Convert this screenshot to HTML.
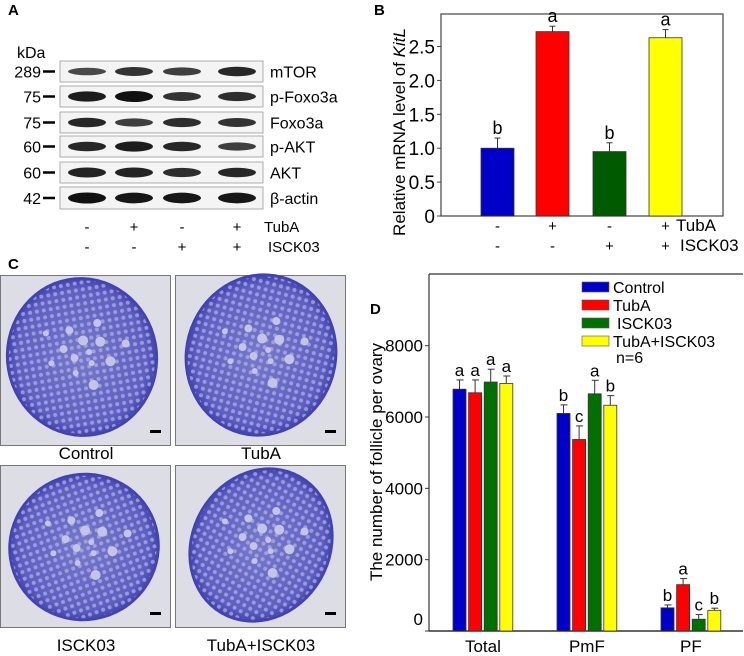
<!DOCTYPE html>
<html><head><meta charset="utf-8"><style>
html,body{margin:0;padding:0;background:#fff;}
svg{display:block;font-family:"Liberation Sans",Arial,sans-serif;}
</style></head><body>
<svg id="fig" width="744" height="656" viewBox="0 0 744 656">
<defs>
<radialGradient id="ov" cx="50%" cy="50%" r="50%">
<stop offset="0" stop-color="#7778cc"/><stop offset="0.85" stop-color="#5e5fc2"/><stop offset="1" stop-color="#3e3fae"/>
</radialGradient>
<pattern id="cells" width="7" height="7" patternUnits="userSpaceOnUse">
<circle cx="3.5" cy="3.5" r="2" fill="#b4b5e2" opacity="0.7"/>
</pattern>
</defs>
<g font-weight="bold" font-size="15">
<text x="8" y="15">A</text>
<text x="374" y="15">B</text>
<text x="8" y="269">C</text>
<text x="370" y="314">D</text>
</g>
<g id="blot"></g>
<g id="histo"></g>
<g id="chartB"></g>
<g id="chartD"></g>
</svg>
<script>
// ---- Panel B data ----
const bGroups = ['Control','TubA','ISCK03','TubA+ISCK03'];
const bValues = [1.0, 2.72, 0.95, 2.63];
const bErrors = [0.15, 0.08, 0.13, 0.12];
const bLetters = ['b','a','b','a'];
const bTicks = [0, 0.5, 1.0, 1.5, 2.0, 2.5];
const bTickLabels = ['0','0.5','1.0','1.5','2.0','2.5'];
// ---- Panel D data ----
const dCategories = ['Total','PmF','PF'];
const dSeries = ['Control','TubA','ISCK03','TubA+ISCK03'];
const dControl = [6780, 6100, 650];
const dTubA = [6680, 5370, 1300];
const dISCK03 = [6980, 6650, 330];
const dCombo = [6940, 6330, 580];
const dControlErr = [260, 240, 80];
const dTubAErr = [360, 380, 170];
const dISCK03Err = [360, 380, 130];
const dComboErr = [210, 270, 60];
const dLetters = [['a','a','a','a'],['b','c','a','b'],['b','a','c','b']];
const dTicks = [0, 2000, 4000, 6000, 8000];
// ---- Panel A data ----
const blotProteins = ['mTOR','p-Foxo3a','Foxo3a','p-AKT','AKT','β-actin'];
const blotMW = ['289','75','75','60','60','42'];
const blotIntensity = [[0.5,0.7,0.6,0.8],[0.9,1.0,0.7,0.75],[0.8,0.6,0.75,0.7],[0.8,0.9,0.8,0.6],[0.85,0.85,0.75,0.8],[1,0.95,0.95,0.95]];
const tubaSigns = ['-','+','-','+'];
const isckSigns = ['-','-','+','+'];

const NS='http://www.w3.org/2000/svg';
function mk(parent, tag, attrs, txt){const e=document.createElementNS(NS,tag);for(const k in attrs)e.setAttribute(k,attrs[k]);if(txt!==undefined)e.textContent=txt;parent.appendChild(e);return e;}
const colors=['#0000c8','#ff0000','#005a00','#ffff00'];
const colorsD=['#0000c8','#ff0000','#007000','#ffff00'];

// ---- Panel A ----
(function(){
const g=document.getElementById('blot');
const rowTop=[61,86,112,136,162,187], rowH=[21,21,21,21,21,22];
const lanes=[87,134,182,237];
blotProteins.forEach((p,i)=>{
 const y=rowTop[i],h=rowH[i];
 const box=mk(g,'rect',{x:60,y:y,width:203,height:h,fill:'#f4f4f4',stroke:'#999','stroke-width':0.8});
 
 
 lanes.forEach((lx,j)=>{
  const it=blotIntensity[i][j];
  const band=mk(g,'ellipse',{cx:lx,cy:y+h/2,rx:19,ry:2+it*3.5,fill:'#111',opacity:0.5+it*0.5});
  
  
 });
 const lab=mk(g,'text',{x:270,y:y+h/2+6,'font-size':16},p);
 
 
 const mw=mk(g,'text',{x:41,y:y+h/2+6,'font-size':16,'text-anchor':'end'},blotMW[i]);
 
 
 mk(g,'line',{x1:43,x2:55,y1:y+h/2,y2:y+h/2,stroke:'#000','stroke-width':2.5});
});
const kd=mk(g,'text',{x:17,y:58,'font-size':16},'kDa');

lanes.forEach((lx,j)=>{
 mk(g,'text',{x:lx,y:232,'font-size':15,'text-anchor':'middle'},tubaSigns[j]);
 mk(g,'text',{x:lx,y:252,'font-size':15,'text-anchor':'middle'},isckSigns[j]);
});
mk(g,'text',{x:264,y:232,'font-size':15},'TubA');
mk(g,'text',{x:268,y:252,'font-size':15},'ISCK03');
})();

// ---- Panel C ----
(function(){
const g=document.getElementById('histo');
const boxes=[[0,275,170,'Control',459],[175,275,170,'TubA',459],[0,465,162,'ISCK03',651],[175,465,162,'TubA+ISCK03',651]];
const shapes=[[82,82,76,80,-10],[86,80,76,82,15],[84,82,76,74,-20],[86,80,70,80,30]];
boxes.forEach((b,i)=>{
 const gg=mk(g,'g',{});
 
 
 mk(gg,'rect',{x:b[0]+0.5,y:b[1]+0.5,width:170,height:b[2],fill:'#dddde6',stroke:'#777','stroke-width':1});
 const s=shapes[i];
 const tr=`rotate(${s[4]} ${b[0]+s[0]} ${b[1]+s[1]})`;
 mk(gg,'ellipse',{cx:b[0]+s[0],cy:b[1]+s[1],rx:s[2],ry:s[3],fill:'url(#ov)',transform:tr});
 mk(gg,'ellipse',{cx:b[0]+s[0],cy:b[1]+s[1],rx:s[2]-3,ry:s[3]-3,fill:'url(#cells)',transform:tr});
 for(let k=0;k<14;k++){
  const a=k*2.4, r=8+k*3.2;
  mk(gg,'circle',{cx:b[0]+s[0]+Math.cos(a)*r*0.9,cy:b[1]+s[1]+Math.sin(a)*r*0.8-5,r:3+(k%3),fill:'#c4c5e6'});
 }
 mk(gg,'rect',{x:b[0]+150,y:b[1]+b[2]-15,width:11,height:3,fill:'#000'});
 const lab=mk(g,'text',{x:b[0]+86,y:b[4],'font-size':17,'text-anchor':'middle'},b[3]);
 
 
});
})();

// ---- Panel B ----
(function(){
const g=document.getElementById('chartB');
const L=441,R=723,T=14,B=216,ymax=2.98;
const y=v=>B-(v/ymax)*(B-T);
const xs=[481,536,593,649], w=33;
mk(g,'rect',{x:L,y:T,width:R-L,height:B-T,fill:'none',stroke:'#444','stroke-width':1.2});
bTicks.forEach((t,i)=>{
 mk(g,'line',{x1:L-4,x2:L,y1:y(t),y2:y(t),stroke:'#444'});
 const tl=mk(g,'text',{x:L-6,y:y(t)+7,'font-size':19,'text-anchor':'end'},bTickLabels[i]);
 
 
});
bValues.forEach((v,i)=>{
 const bar=mk(g,'rect',{x:xs[i],y:y(v),width:w,height:B-y(v),fill:colors[i],stroke:'#333','stroke-width':0.8});
 
 
 const cx=xs[i]+w/2, ye=y(v+bErrors[i]);
 mk(g,'line',{x1:cx,x2:cx,y1:y(v),y2:ye,stroke:'#333','stroke-width':1});
 mk(g,'line',{x1:cx-3,x2:cx+3,y1:ye,y2:ye,stroke:'#333','stroke-width':1});
 const lt=mk(g,'text',{x:cx,y:ye-4,'font-size':18,'text-anchor':'middle'},bLetters[i]);
 
 
 mk(g,'text',{x:cx,y:231,'font-size':15,'text-anchor':'middle'},tubaSigns[i]);
 mk(g,'text',{x:cx,y:251,'font-size':15,'text-anchor':'middle'},isckSigns[i]);
});
mk(g,'text',{x:676,y:231,'font-size':17},'TubA');
mk(g,'text',{x:680,y:251,'font-size':17},'ISCK03');
const yl=mk(g,'text',{x:0,y:0,'font-size':17,'text-anchor':'middle',transform:'translate(405,132) rotate(-90)'});


mk(yl,'tspan',{},'Relative mRNA level of ');
mk(yl,'tspan',{'font-style':'italic'},'KitL');
})();

// ---- Panel D ----
(function(){
const g=document.getElementById('chartD');
const L=429,R=743,T=274,B=631,ymax=10010;
const y=v=>B-(v/ymax)*(B-T);
const groupStart=[453,557,661], step=15.6, w=13;
const vals=[dControl,dTubA,dISCK03,dCombo], errs=[dControlErr,dTubAErr,dISCK03Err,dComboErr];
mk(g,'line',{x1:L,x2:L,y1:T,y2:B,stroke:'#333','stroke-width':1.2});
mk(g,'line',{x1:L,x2:R,y1:T,y2:T,stroke:'#333','stroke-width':1.2});
mk(g,'line',{x1:L,x2:R,y1:B,y2:B,stroke:'#333','stroke-width':1.5});
dTicks.forEach(t=>{
 mk(g,'line',{x1:L-4,x2:L,y1:y(t),y2:y(t),stroke:'#333'});
 const tl=mk(g,'text',{x:L-6,y:y(t)+(t===0?-6:6),'font-size':17,'text-anchor':'end'},String(t));
 
 
});
dCategories.forEach((c,ci)=>{
 vals.forEach((s,si)=>{
  const x=groupStart[ci]+si*step, v=s[ci];
  const bar=mk(g,'rect',{x:x,y:y(v),width:w,height:B-y(v),fill:colorsD[si],stroke:'#333','stroke-width':0.8});
  
  
  const cx=x+w/2, ye=y(v+errs[si][ci]);
  mk(g,'line',{x1:cx,x2:cx,y1:y(v),y2:ye,stroke:'#333','stroke-width':1});
  mk(g,'line',{x1:cx-3,x2:cx+4,y1:ye,y2:ye,stroke:'#333','stroke-width':1});
  const lt=mk(g,'text',{x:cx,y:ye-4,'font-size':17,'text-anchor':'middle'},dLetters[ci][si]);
  
  
 });
 const xl=mk(g,'text',{x:groupStart[ci]+1.5*step+w/2,y:652,'font-size':17,'text-anchor':'middle'},c);
 
 
});
const lg=mk(g,'g',{});


const ly=[287,305,323,341];
dSeries.forEach((s,i)=>{
 const e=mk(lg,'g',{});
 
 
 mk(e,'rect',{x:582,y:ly[i]-5,width:27,height:10,fill:colorsD[i],stroke:'#555','stroke-width':0.6});
 mk(e,'text',{x:(i===2?617:613),y:ly[i]+6,'font-size':16},s);
});
mk(lg,'text',{x:616,y:363,'font-size':16},'n=6');
const yl=mk(g,'text',{x:0,y:0,'font-size':17,'text-anchor':'middle',transform:'translate(382,462) rotate(-90)'},'The number of follicle per ovary');


})();
</script>
</body></html>
